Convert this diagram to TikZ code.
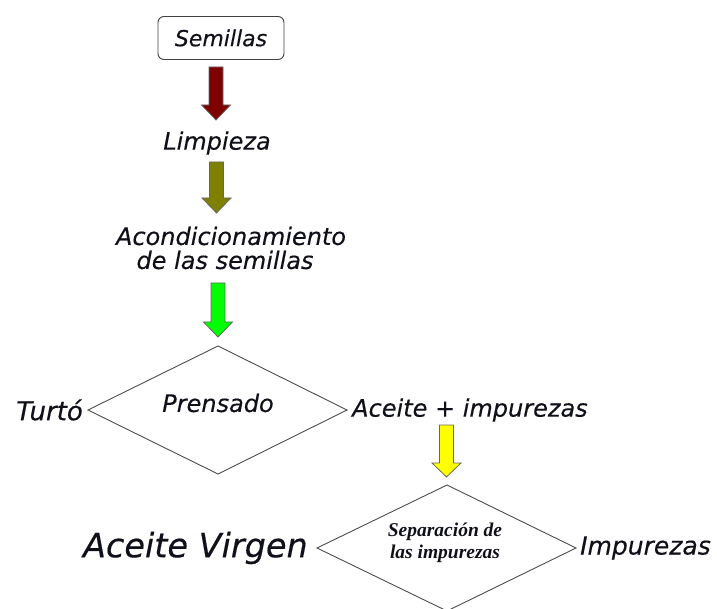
\documentclass[tikz,border=0pt]{standalone}
\usepackage{fontspec}
\setmainfont{DejaVu Sans}[ItalicFeatures={FakeBold=0.35}]
\newfontfamily\serifbi{Liberation Serif}
\definecolor{arrred}{HTML}{7F0000}
\definecolor{arrolive}{HTML}{808000}
\definecolor{arrgreen}{HTML}{00FF00}
\definecolor{arryellow}{HTML}{FFFF00}
\definecolor{txt}{HTML}{10101A}
\newcommand\blockarr[5]{% x, ytop, yheadbase, ytip, color
  \filldraw[fill=#5, draw=gray!80!black, line width=0.8pt, line join=miter]
    ({#1-7},#2) -- ({#1+7},#2) -- ({#1+7},#3) -- ({#1+14.5},#3) -- (#1,#4)
    -- ({#1-14.5},#3) -- ({#1-7},#3) -- cycle;}
\begin{document}
\begin{tikzpicture}[x=1pt,y=-1pt,
  lbl/.style={font=\itshape\fontsize{24}{28}\selectfont, text=txt, inner sep=0pt},
  dshape/.style={draw=black!70, line width=0.9pt}]
\useasboundingbox (0,0) rectangle (717,609);
% Semillas
\node[draw=black!75, line width=0.9pt, rounded corners=6pt, minimum width=126pt, minimum height=43pt,
  font=\itshape\fontsize{22}{26}\selectfont, text=txt, inner sep=0pt] (sem) at (221,38) {Semillas};
\blockarr{216}{67}{105}{120}{arrred}
\node[lbl] (limp) at (217,143) {Limpieza};
\blockarr{216.5}{162}{198}{213}{arrolive}
\node[lbl] (acond1) at (231,236) {Acondicionamiento};
\node[lbl] (acond2) at (225,260) {de las semillas};
\blockarr{218}{283}{322}{337}{arrgreen}
% diamond 1
\coordinate (d1t) at (218,346);
\coordinate (d1r) at (347,410);
\coordinate (d1b) at (218,474);
\coordinate (d1l) at (88,410);
\draw[dshape] (d1t) -- (d1r) -- (d1b) -- (d1l) -- cycle;
\node[lbl] (prens) at (218,403) {Prensado};
\node[lbl, font=\itshape\fontsize{26}{30}\selectfont, anchor=east] (turto) at (83,410) {Turtó};
\node[lbl, anchor=west] (aceimp) at (352,410) {Aceite + impurezas};
\blockarr{446.5}{425}{463}{477}{arryellow}
% diamond 2
\coordinate (d2t) at (447,485);
\coordinate (d2r) at (576,548);
\coordinate (d2b) at (447,611);
\coordinate (d2l) at (317,548);
\draw[dshape] (d2t) -- (d2r) -- (d2b) -- (d2l) -- cycle;
\node[font=\serifbi\bfseries\itshape\fontsize{19.5}{22}\selectfont, text=txt, align=center, inner sep=0pt] (sep) at (445,543) {Separación de\\las impurezas};
\node[font=\itshape\fontsize{33.5}{38}\selectfont, text=txt, inner sep=0pt, anchor=east] (virg) at (308,548) {Aceite Virgen};
\node[lbl, font=\itshape\fontsize{25}{29}\selectfont, anchor=west] (imp) at (580,548) {Impurezas};
\end{tikzpicture}
\end{document}
